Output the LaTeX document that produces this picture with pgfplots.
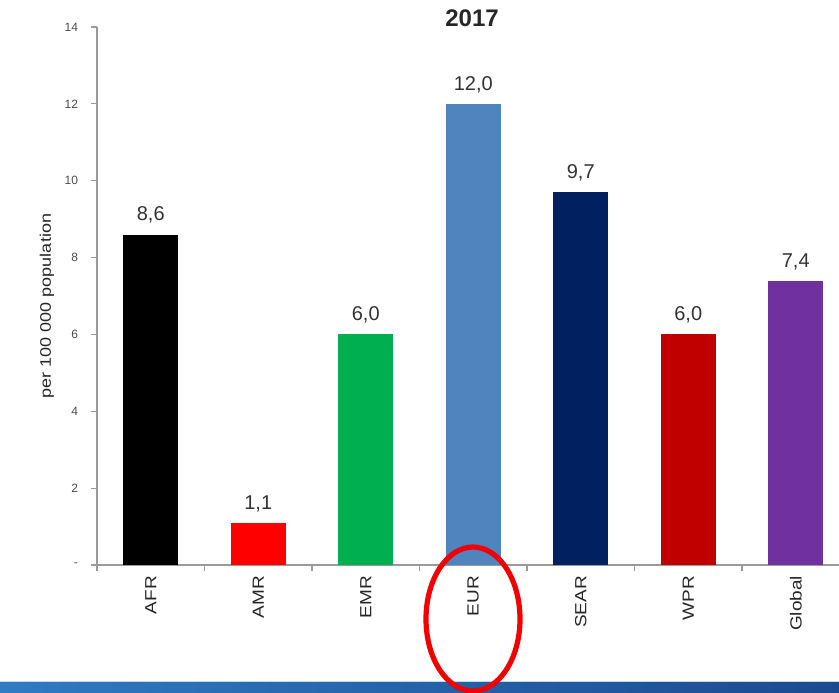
\documentclass[border=0pt]{standalone}
\usepackage{pgfplots}
\pgfplotsset{compat=1.18}
\usepackage{fontspec}
\setmainfont{Liberation Sans}

\definecolor{cAFR}{HTML}{000000}
\definecolor{cAMR}{HTML}{FF0000}
\definecolor{cEMR}{HTML}{00B050}
\definecolor{cEUR}{HTML}{4F84BE}
\definecolor{cSEAR}{HTML}{002060}
\definecolor{cWPR}{HTML}{C00000}
\definecolor{cGLB}{HTML}{7030A0}
\definecolor{axisgray}{HTML}{9A9A9A}
\definecolor{bandL}{HTML}{2F7BC4}
\definecolor{bandR}{HTML}{1C4A90}

\newcommand{\xl}[1]{\scalebox{1}[0.85]{#1}}

\begin{document}
\begin{tikzpicture}
\path[use as bounding box] (0pt,0pt) rectangle (419.5pt,346pt);
\clip (0pt,0pt) rectangle (419.5pt,346pt);
\fill[white] (0pt,0pt) rectangle (419.5pt,346pt);

% year heading
\node[font=\bfseries\fontsize{12}{14}\selectfont, text=black!85] at (236pt,337pt) {2017};

\begin{axis}[
  at={(48.5pt,63.5pt)}, anchor=south west,
  scale only axis, width=376.25pt, height=269pt,
  xmin=-0.5, xmax=6.5, ymin=0, ymax=14,
  axis x line*=bottom, axis y line*=left,
  axis line style={draw=axisgray, line width=0.6pt, -},
  tick align=outside,
  major tick length=3pt,
  tick style={draw=axisgray, line width=0.6pt},
  ytick={0,2,...,14},
  yticklabels={-,2,4,6,8,10,12,14},
  yticklabel style={font=\fontsize{6}{7}\selectfont, text=black!70, xshift=-3pt},
  xtick={-0.5,0.5,...,6.5},
  xticklabels={},
  extra x ticks={0,1,2,3,4,5,6},
  extra x tick labels={\xl{AFR},\xl{AMR},\xl{EMR},\xl{EUR},\xl{SEAR},\xl{WPR},\xl{Global}},
  extra x tick style={major tick length=0pt,
    xticklabel style={rotate=90, anchor=east, font=\fontsize{9.5}{11}\selectfont, text=black!85, xshift=-2pt}},
  ylabel={\scalebox{1}[0.85]{per 100 000 population}},
  y label style={at={(axis description cs:0,0.5)}, anchor=center,
    yshift=25pt, xshift=-5pt, font=\fontsize{9}{10}\selectfont, text=black!85},
  nodes near coords,
  every node near coord/.append style={font=\fontsize{10}{12}\selectfont, text=black!80, yshift=2pt},
  /pgf/number format/.cd, fixed, fixed zerofill, precision=1, use comma, assume math mode=true,
]
\addplot[ybar, bar shift=0pt, bar width=0.51, fill=cAFR, draw=none] coordinates {(0,8.6)};
\addplot[ybar, bar shift=0pt, bar width=0.51, fill=cAMR, draw=none] coordinates {(1,1.1)};
\addplot[ybar, bar shift=0pt, bar width=0.51, fill=cEMR, draw=none] coordinates {(2,6.0)};
\addplot[ybar, bar shift=0pt, bar width=0.51, fill=cEUR, draw=none] coordinates {(3,12.0)};
\addplot[ybar, bar shift=0pt, bar width=0.51, fill=cSEAR, draw=none] coordinates {(4,9.7)};
\addplot[ybar, bar shift=0pt, bar width=0.51, fill=cWPR, draw=none] coordinates {(5,6.0)};
\addplot[ybar, bar shift=0pt, bar width=0.51, fill=cGLB, draw=none] coordinates {(6,7.4)};
\end{axis}

% blue band along the bottom edge
\shade[left color=bandL, right color=bandR] (0pt,0pt) rectangle (419.5pt,5.5pt);
\draw[white!70!bandL, line width=0.3pt] (0pt,5.5pt) -- (419.5pt,5.5pt);

% highlight around EUR
\draw[red!95!black, line width=2.6pt] (236.5pt,36.5pt) ellipse [x radius=23.5pt, y radius=36pt];
\end{tikzpicture}
\end{document}
